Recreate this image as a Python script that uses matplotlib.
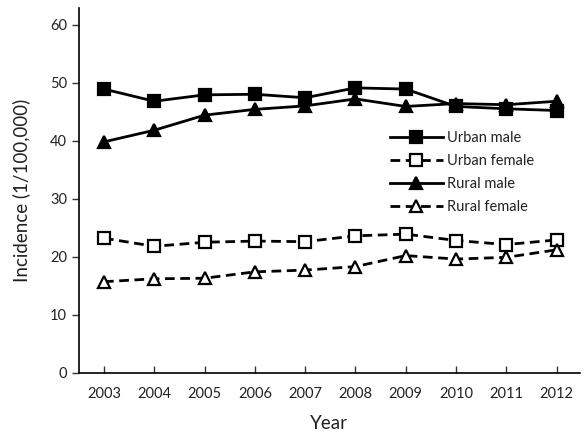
import matplotlib
matplotlib.use("Agg")
import matplotlib.pyplot as plt

plt.rcParams['font.family'] = ['Lato', 'DejaVu Sans']

years = [2003, 2004, 2005, 2006, 2007, 2008, 2009, 2010, 2011, 2012]
urban_male = [48.9, 46.8, 47.9, 48.0, 47.4, 49.1, 48.9, 45.9, 45.5, 45.2]
urban_female = [23.2, 21.8, 22.5, 22.7, 22.6, 23.6, 23.9, 22.8, 22.1, 22.9]
rural_male = [39.8, 41.8, 44.4, 45.4, 46.0, 47.2, 45.9, 46.4, 46.2, 46.8]
rural_female = [15.7, 16.2, 16.3, 17.4, 17.7, 18.3, 20.2, 19.6, 19.9, 21.2]
labels = ["Urban male", "Urban female", "Rural male", "Rural female"]
yticks = [0, 10, 20, 30, 40, 50, 60]

fig = plt.figure(figsize=(5.88, 4.34), dpi=100)
ax = fig.add_axes([0.134, 0.141, 0.852, 0.841])

dash = (0, (3.5, 2))
kw = dict(color='black', lw=2, markersize=8, markeredgewidth=1.6)
ax.plot(years, urban_male, '-', marker='s', mfc='black', label=labels[0], **kw)
ax.plot(years, urban_female, linestyle=dash, marker='s', mfc='white', label=labels[1], **kw)
ax.plot(years, rural_male, '-', marker='^', mfc='black', label=labels[2], **kw)
ax.plot(years, rural_female, linestyle=dash, marker='^', mfc='white', label=labels[3], **kw)

ax.set_xlim(2002.5, 2012.46)
ax.set_ylim(0, 62.9)
ax.set_yticks(yticks)
ax.set_xticks(years)
ax.set_xticklabels([str(y) for y in years])
ax.spines['top'].set_visible(False)
ax.spines['right'].set_visible(False)
ax.spines['left'].set_linewidth(1.2)
ax.spines['bottom'].set_linewidth(1.2)
ax.tick_params(axis='y', direction='out', length=5, width=1, labelsize=10.5, colors='#333333', labelcolor='#222222')
ax.tick_params(axis='x', direction='in', length=5, width=1, labelsize=10.5, pad=10, colors='#333333', labelcolor='#222222')
ax.set_ylabel("Incidence (1/100,000)", fontsize=13.5, color='#222222', labelpad=14)
ax.set_xlabel("Year", fontsize=13.5, color='#222222', labelpad=10)

leg = ax.legend(loc='upper left', bbox_to_anchor=(390/588, (434-131)/434), bbox_transform=fig.transFigure,
                frameon=False, fontsize=10.5, handlelength=3.6, handletextpad=0.3,
                labelspacing=0.62, borderaxespad=0, borderpad=0)
for t in leg.get_texts():
    t.set_color('#222222')

fig.savefig("out.png", dpi=100)
